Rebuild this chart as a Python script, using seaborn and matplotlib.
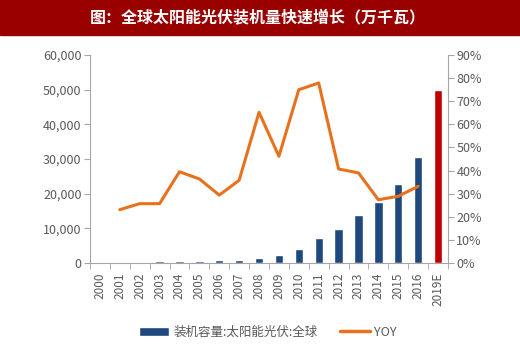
import numpy as np
import pandas as pd
import matplotlib
matplotlib.use("Agg")
import matplotlib.pyplot as plt
import matplotlib.ticker as mticker
from matplotlib.patches import Patch, Rectangle
from matplotlib.lines import Line2D
import seaborn as sns

# data
years = ["2000", "2001", "2002", "2003", "2004", "2005", "2006", "2007", "2008",
         "2009", "2010", "2011", "2012", "2013", "2014", "2015", "2016", "2019E"]
capacity = [120, 150, 190, 480, 520, 700, 800, 1000, 1500,
            2300, 4000, 7200, 9900, 13800, 17700, 22700, 30500, 49900]
yoy_years = ["2001", "2002", "2003", "2004", "2005", "2006", "2007", "2008",
             "2009", "2010", "2011", "2012", "2013", "2014", "2015", "2016"]
yoy = [23.1, 25.7, 25.7, 39.5, 36.4, 29.4, 35.8, 65.2,
       46.2, 75.0, 77.9, 40.7, 39.0, 27.4, 28.9, 33.2]

blue = "#1F497D"
red = "#C00000"
orange = "#E8711E"
grey = "#595959"

sns.set_style("white")
plt.rcParams['font.family'] = ['Noto Sans CJK SC', 'DejaVu Sans']

df = pd.DataFrame({"year": years, "cap": capacity})
df_yoy = pd.DataFrame({"pos": [years.index(y) for y in yoy_years], "yoy": yoy})

fig = plt.figure(figsize=(5.2, 3.56), dpi=100)
ax = fig.add_axes([0.173, 0.261, 0.6885, 0.5845])

colors = [blue] * (len(years) - 1) + [red]
sns.barplot(data=df, x="year", y="cap", hue="year", palette=colors,
            legend=False, width=0.42, saturation=1, ax=ax)
ax.set_xlim(-0.5, len(years) - 0.5)
ax.set_ylim(0, 60000)
ax.yaxis.set_major_locator(mticker.MultipleLocator(10000))
ax.yaxis.set_major_formatter(mticker.StrMethodFormatter("{x:,.0f}"))
ax.set_xlabel("")
ax.set_ylabel("")

ax2 = ax.twinx()
sns.lineplot(data=df_yoy, x="pos", y="yoy", color=orange, linewidth=2.2, ax=ax2)
ax2.set_ylim(0, 90)
ax2.yaxis.set_major_locator(mticker.MultipleLocator(10))
ax2.yaxis.set_major_formatter(mticker.FuncFormatter(lambda v, p: f"{v:.0f}%"))
ax2.set_xlabel("")
ax2.set_ylabel("")
ax2.set_xlim(-0.5, len(years) - 0.5)

for a in (ax, ax2):
    for s in a.spines.values():
        s.set_visible(False)
ax.spines["left"].set_visible(True)
ax.spines["bottom"].set_visible(True)
ax2.spines["right"].set_visible(True)
for s in (ax.spines["left"], ax.spines["bottom"], ax2.spines["right"]):
    s.set_color("#A6A6A6")
    s.set_linewidth(0.8)

ax.tick_params(axis="y", left=True, length=4, color="#A6A6A6", labelsize=9,
               labelcolor=grey, pad=2)
ax2.tick_params(axis="y", right=True, length=4, color="#A6A6A6", labelsize=9,
                labelcolor=grey, pad=2)
ax.set_xticks(range(len(years)))
ax.set_xticklabels(years, rotation=90, fontsize=8.5, color=grey)
ax.tick_params(axis="x", which="major", length=0, pad=7)
ax.set_xticks(np.arange(-0.5, len(years), 1), minor=True)
ax.tick_params(axis="x", which="minor", bottom=True, length=4, color="#A6A6A6")

# title bar
fig.patches.append(Rectangle((0, 0.902), 1, 0.098, transform=fig.transFigure,
                             color="#990000", zorder=0))
fig.text(0.495, 0.951, "图：全球太阳能光伏装机量快速增长（万千瓦）", color="white",
         fontsize=11.5, fontweight="bold", ha="center", va="center")

handles = [Patch(facecolor=blue, label="装机容量:太阳能光伏:全球"),
           Line2D([0], [0], color=orange, linewidth=2.5, label="YOY")]
fig.legend(handles=handles, loc="center", bbox_to_anchor=(0.515, 0.067), ncol=2,
           frameon=False, fontsize=9, labelcolor=grey, handlelength=2.4,
           handleheight=0.8, columnspacing=1.8, handletextpad=0.3)

fig.savefig("out.png", dpi=100)
